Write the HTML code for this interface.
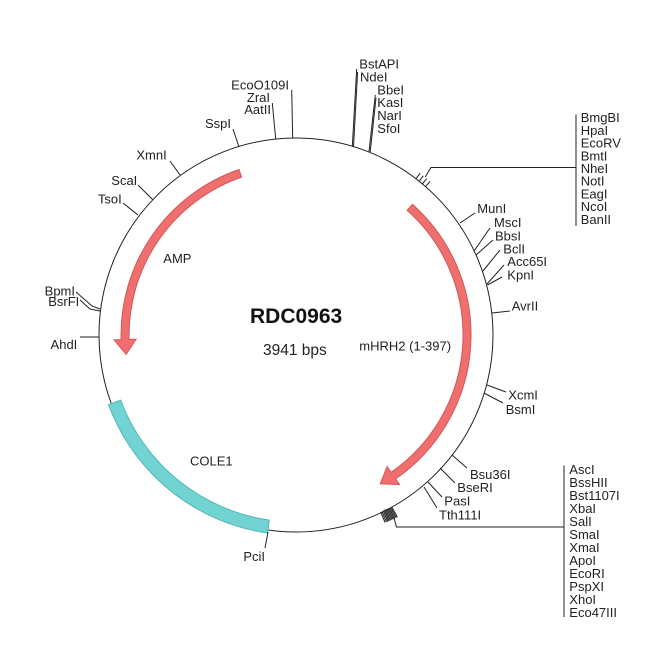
<!DOCTYPE html>
<html><head><meta charset="utf-8"><style>
html,body{margin:0;padding:0;background:#fff;}
svg{display:block;}
text{font-family:"Liberation Sans",Arial,sans-serif;fill:#222;font-size:13px;}
.l{stroke:#222;stroke-width:1;fill:none;}
</style></head><body>
<svg width="650" height="650" viewBox="0 0 650 650" xmlns="http://www.w3.org/2000/svg">
<rect width="650" height="650" fill="#fff"/>
<!-- backbone -->
<circle cx="296" cy="335" r="197" class="l"/>

<!-- features -->
<path d="M 239.0 169.5 A 175 175 0 0 0 121.1 339.6 L 114.1 339.8 L 126.1 354.4 L 136.1 339.2 L 129.1 339.4 A 167 167 0 0 1 241.6 177.1 Z" fill="#ef6f6f" stroke="#d65656" stroke-width="1"/>
<path d="M 412.4 204.3 A 175 175 0 0 1 395.6 478.9 L 399.6 484.6 L 380.2 483.8 L 387.1 466.5 L 391.1 472.3 A 167 167 0 0 0 407.1 210.3 Z" fill="#ef6f6f" stroke="#d65656" stroke-width="1"/>
<path d="M 108.5 404.7 A 200 200 0 0 0 267.5 533.0 L 269.3 520.1 A 187 187 0 0 1 120.7 400.2 Z" fill="#72d3d3" stroke="#52b8b8" stroke-width="1"/>

<!-- top ticks -->
<line class="l" x1="239" y1="147" x2="233" y2="129"/>
<line class="l" x1="275.7" y1="139" x2="272.3" y2="103"/>
<line class="l" x1="292.7" y1="138.5" x2="291.7" y2="90"/>
<line class="l" x1="352.3" y1="146.5" x2="356.7" y2="69"/>
<line class="l" x1="353.5" y1="146.8" x2="357.6" y2="72"/>
<line class="l" x1="369" y1="151.7" x2="375.3" y2="95"/>
<line class="l" x1="370.2" y1="152" x2="376" y2="98"/>

<!-- cluster 1 -->
<g class="l">
<line x1="415.9" y1="178.7" x2="420.2" y2="173.2"/>
<line x1="419.1" y1="181.3" x2="423.3" y2="175.8"/>
<line x1="422.3" y1="184.0" x2="426.7" y2="178.6"/>
<line x1="425.5" y1="186.6" x2="430.1" y2="181.3"/>
</g>
<polyline class="l" points="425.2,177.1 431,167.5 576,167.5"/>
<line class="l" x1="576" y1="114.5" x2="576" y2="226"/>

<!-- right ticks -->
<line class="l" x1="460" y1="223" x2="475" y2="213"/>
<line class="l" x1="474" y1="251" x2="490" y2="228"/>
<line class="l" x1="476" y1="255" x2="493" y2="240"/>
<line class="l" x1="483" y1="271" x2="500" y2="250"/>
<line class="l" x1="487" y1="284" x2="504" y2="265"/>
<line class="l" x1="487.5" y1="285" x2="502" y2="277"/>
<line class="l" x1="492" y1="313" x2="510" y2="311"/>
<line class="l" x1="487" y1="385" x2="506" y2="392"/>
<line class="l" x1="484" y1="393" x2="503" y2="403"/>
<line class="l" x1="452" y1="455" x2="467" y2="468"/>
<line class="l" x1="440" y1="468" x2="455" y2="483"/>
<line class="l" x1="428" y1="482" x2="442" y2="497"/>
<line class="l" x1="424" y1="487" x2="437" y2="508"/>

<!-- cluster 2 -->
<g class="l">
<line x1="392.0" y1="507.3" x2="397.4" y2="517.2"/>
<line x1="390.8" y1="507.8" x2="396.1" y2="517.8"/>
<line x1="389.5" y1="508.4" x2="394.7" y2="518.5"/>
<line x1="388.3" y1="508.9" x2="393.4" y2="519.1"/>
<line x1="387.0" y1="509.5" x2="392.0" y2="519.7"/>
<line x1="385.7" y1="510.0" x2="390.6" y2="520.3"/>
<line x1="384.5" y1="510.5" x2="389.2" y2="520.9"/>
<line x1="383.2" y1="511.0" x2="387.9" y2="521.4"/>
<line x1="381.9" y1="511.5" x2="386.5" y2="522.0"/>
<line x1="380.6" y1="512.0" x2="385.1" y2="522.5"/>
</g>
<polygon points="383,510 392,507 397,517 387,522" fill="#333" opacity="0.6"/>
<polyline class="l" points="394,518 396.5,527 564,527"/>
<line class="l" x1="564" y1="465.5" x2="564" y2="617"/>

<!-- left ticks -->
<line class="l" x1="180" y1="175" x2="170" y2="161"/>
<line class="l" x1="153" y1="200" x2="138" y2="185"/>
<line class="l" x1="138" y1="215" x2="123" y2="203"/>
<polyline class="l" points="76,292 92,306 100,309"/>
<polyline class="l" points="80,300 90,309 100,311"/>
<line class="l" x1="99" y1="337" x2="80" y2="337"/>
<line class="l" x1="268" y1="532" x2="265" y2="548"/>

<!-- top labels -->
<text x="231" y="127.8" text-anchor="end">SspI</text>
<text x="289" y="89.5" text-anchor="end">EcoO109I</text>
<text x="270" y="101.8" text-anchor="end">ZraI</text>
<text x="271" y="113.8" text-anchor="end">AatII</text>
<text x="359.3" y="68.5">BstAPI</text>
<text x="360" y="81.5">NdeI</text>
<text x="377.3" y="94.5">BbeI</text>
<text x="377.3" y="107">KasI</text>
<text x="377.3" y="120">NarI</text>
<text x="377.3" y="132.8">SfoI</text>

<!-- right list 1 -->
<text x="580.7" y="122.2">BmgBI</text>
<text x="580.7" y="134.9">HpaI</text>
<text x="580.7" y="147.6">EcoRV</text>
<text x="580.7" y="160.3">BmtI</text>
<text x="580.7" y="173">NheI</text>
<text x="580.7" y="185.7">NotI</text>
<text x="580.7" y="198.4">EagI</text>
<text x="580.7" y="211.1">NcoI</text>
<text x="580.7" y="223.8">BanII</text>

<!-- right labels -->
<text x="477.3" y="212.8">MunI</text>
<text x="494" y="226.8">MscI</text>
<text x="495" y="240.5">BbsI</text>
<text x="503.3" y="253.5">BclI</text>
<text x="507.3" y="266.2">Acc65I</text>
<text x="507.3" y="279.5">KpnI</text>
<text x="511.7" y="310.5">AvrII</text>
<text x="508.3" y="399.5">XcmI</text>
<text x="505.7" y="413.8">BsmI</text>
<text x="470" y="478.8">Bsu36I</text>
<text x="457.3" y="492.2">BseRI</text>
<text x="444.3" y="505.5">PasI</text>
<text x="439" y="519.5">Tth111I</text>

<!-- right list 2 -->
<text x="569.3" y="473.8">AscI</text>
<text x="569.3" y="486.8">BssHII</text>
<text x="569.3" y="499.8">Bst1107I</text>
<text x="569.3" y="512.8">XbaI</text>
<text x="569.3" y="525.8">SalI</text>
<text x="569.3" y="538.8">SmaI</text>
<text x="569.3" y="551.8">XmaI</text>
<text x="569.3" y="564.8">ApoI</text>
<text x="569.3" y="577.8">EcoRI</text>
<text x="569.3" y="590.8">PspXI</text>
<text x="569.3" y="603.8">XhoI</text>
<text x="569.3" y="616.8">Eco47III</text>

<!-- left labels -->
<text x="166.7" y="159.5" text-anchor="end">XmnI</text>
<text x="137.3" y="185.2" text-anchor="end">ScaI</text>
<text x="121.7" y="203.5" text-anchor="end">TsoI</text>
<text x="75" y="295.5" text-anchor="end">BpmI</text>
<text x="79.3" y="306.2" text-anchor="end">BsrFI</text>
<text x="77.3" y="348.8" text-anchor="end">AhdI</text>
<text x="265" y="561" text-anchor="end">PciI</text>

<!-- feature labels -->
<text x="163.3" y="262.8">AMP</text>
<text x="190" y="465.5">COLE1</text>
<text x="359.3" y="350.5">mHRH2 (1-397)</text>

<!-- center -->
<text x="250" y="323" style="font-size:21px;font-weight:bold;fill:#111">RDC0963</text>
<text x="263" y="355" style="font-size:15.5px;fill:#222">3941 bps</text>
</svg>
</body></html>
